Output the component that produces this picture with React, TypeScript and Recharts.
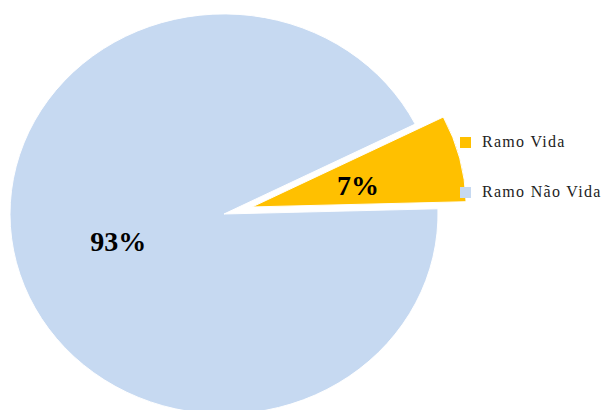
import { PieChart, Pie, Cell, Sector, Legend } from "recharts";

const categories = ["Ramo Vida", "Ramo Não Vida"];
const shares = [7, 93];
const colors = ["#FFC000", "#C6D9F1"];
const explode = [29, 0];

const data = categories.map((name, i) => ({ name, value: shares[i] }));

const RAD = Math.PI / 180;
const SQUASH = 0.935;

function SliceShape(props: any) {
  const { cx, cy, midAngle, index } = props;
  const i = typeof index === "number" ? index : categories.indexOf(props.name);
  const off = explode[i] || 0;
  const dx = off * Math.cos(-midAngle * RAD);
  const dy = off * Math.sin(-midAngle * RAD);
  return (
    <g transform={`translate(${dx}, ${dy}) translate(0, ${cy}) scale(1, ${SQUASH}) translate(0, ${-cy})`}>
      <Sector {...props} cx={cx} cy={cy} />
    </g>
  );
}

function renderLabel(props: any) {
  const { cx, cy, midAngle, outerRadius, index, value } = props;
  const off = explode[index] || 0;
  const r = outerRadius * 0.51;
  const x = cx + (r + off) * Math.cos(-midAngle * RAD);
  const y = cy + (r * SQUASH + off) * Math.sin(-midAngle * RAD) + 3;
  return (
    <text
      x={x}
      y={y}
      textAnchor="middle"
      dominantBaseline="central"
      fill="#000"
      style={{ fontFamily: "'Liberation Serif', 'Times New Roman', serif", fontWeight: 700, fontSize: 28 }}
    >
      {`${value}%`}
    </text>
  );
}

function LegendBox() {
  return (
    <div style={{ fontFamily: "'Liberation Serif', 'Times New Roman', serif", fontSize: 16, color: "#222" }}>
      {categories.map((c, i) => (
        <div key={c} style={{ display: "flex", alignItems: "center", height: 20, marginBottom: 30 }}>
          <span style={{ width: 11, height: 11, background: colors[i], marginRight: 11, display: "inline-block" }} />
          <span style={{ letterSpacing: 1.3, whiteSpace: "nowrap" }}>{c}</span>
        </div>
      ))}
    </div>
  );
}

export default function App() {
  return (
    <div style={{ position: "absolute", left: 0, top: 0, width: 606, height: 410, background: "#fff" }}>
      <PieChart width={606} height={410}>
        <Pie
          data={data}
          dataKey="value"
          nameKey="name"
          cx={219}
          cy={209}
          outerRadius={214}
          startAngle={1.5}
          endAngle={361.5}
          stroke="#fff"
          strokeWidth={1}
          shape={SliceShape}
          label={renderLabel}
          labelLine={false}
          isAnimationActive={false}
        >
          {data.map((d, i) => (
            <Cell key={d.name} fill={colors[i]} />
          ))}
        </Pie>
        <Legend
          layout="vertical"
          content={() => <LegendBox />}
          wrapperStyle={{ left: 460, top: 132, width: 146 }}
        />
      </PieChart>
    </div>
  );
}
